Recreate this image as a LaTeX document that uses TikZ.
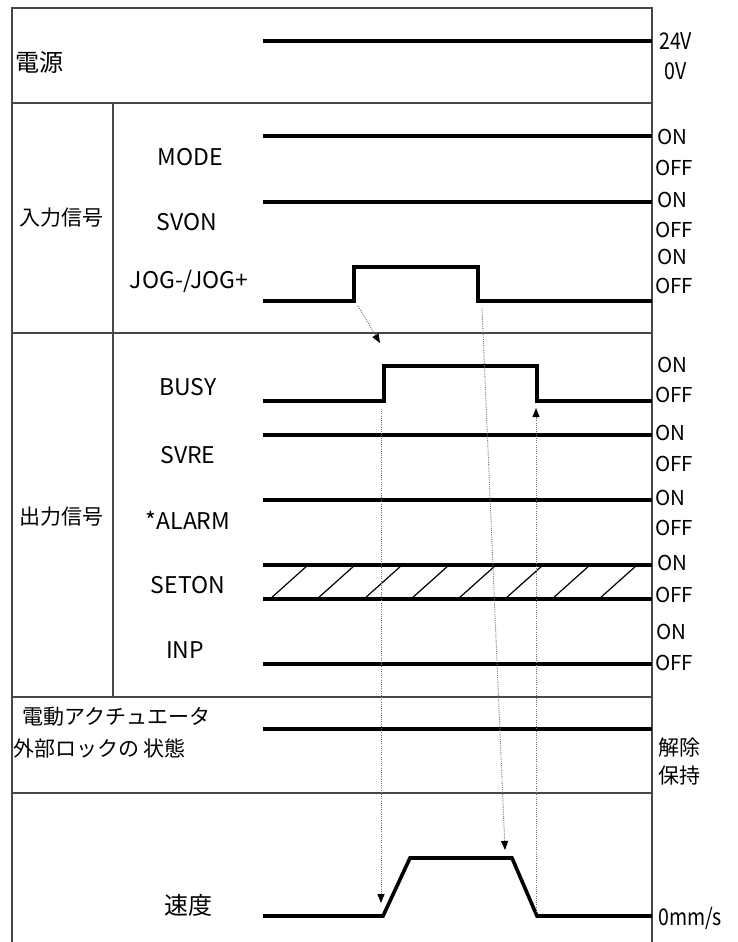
\documentclass[tikz,border=0pt]{standalone}
\usepackage{fontspec}
\newfontfamily\jp{Noto Sans CJK JP}
\usetikzlibrary{arrows.meta}
\tikzset{
  frame/.style={draw=black!72, line width=1.1pt},
  sig/.style={line width=3.6pt, line join=miter, line cap=butt},
  hatchline/.style={line width=1.2pt},
  dots/.style={draw=black!55, line width=0.9pt, dash pattern=on 1pt off 1.2pt,
    -{Triangle[length=9pt,width=7pt,color=black]}},
  grp/.style={font=\jp\fontsize{21}{21}\selectfont, inner sep=0, anchor=west},
  sname/.style={font=\jp\fontsize{23}{23}\selectfont, inner sep=0},
  stat/.style={font=\jp\fontsize{20.5}{20.5}\selectfont, inner sep=0, anchor=west},
  narrow/.style={font=\jp\fontsize{23}{23}\selectfont, inner sep=0, anchor=west},
}
\begin{document}
\begin{tikzpicture}[x=1pt,y=-1pt]
\useasboundingbox (0,0) rectangle (737,942);
% frame
\draw[frame] (12,942) -- (12,8) -- (652,8) -- (652,942);
\foreach \yy in {103,333,697,793} \draw[frame] (12,\yy) -- (652,\yy);
\draw[frame] (113,103) -- (113,697);
% group labels
\node[grp,font=\jp\fontsize{24}{24}\selectfont] (g1) at (15,62) {電源};
\node[grp] (g2) at (19,218) {入力信号};
\node[grp] (g3) at (19,517) {出力信号};
\node[grp] (g4) at (22,717) {電動アクチュエータ};
\node[grp] (g5) at (13,748) {外部ロックの 状態};
% signal names
\node[sname] (n1) at (190,157) {MODE};
\node[sname] (n2) at (187,222) {SVON};
\node[sname] (n3) at (189,281) {JOG-/JOG+};
\node[sname] (n4) at (188,387) {BUSY};
\node[sname] (n5) at (188,455) {SVRE};
\node[sname] (n6) at (188,520) {*ALARM};
\node[sname] (n7) at (188,585) {SETON};
\node[sname] (n8) at (185,650) {INP};
\node[grp,anchor=center,font=\jp\fontsize{24}{24}\selectfont] (n9) at (188,905) {速度};
% signals
\draw[sig] (263,41) -- (652,41);
\draw[sig] (263,136) -- (652,136);
\draw[sig] (263,202) -- (652,202);
\draw[sig] (263,301) -- (354,301) -- (354,267) -- (478,267) -- (478,301) -- (652,301);
\draw[sig] (263,401) -- (384,401) -- (384,366) -- (537,366) -- (537,401) -- (652,401);
\draw[sig] (263,435) -- (652,435);
\draw[sig] (263,500) -- (652,500);
\draw[sig] (263,565) -- (652,565);
\draw[sig] (263,599) -- (652,599);
\foreach \k in {0,...,7} \draw[hatchline] (270+47*\k,599) -- (308+47*\k,565);
\draw[sig] (263,664) -- (652,664);
\draw[sig] (263,729) -- (652,729);
\draw[sig] (263,916) -- (383,916) -- (410,858) -- (512,858) -- (537,916) -- (652,916);
% dotted arrows
\coordinate (a1s) at (358,306); \coordinate (a1e) at (380,343);
\coordinate (a2s) at (381,409); \coordinate (a2e) at (381,903);
\coordinate (a3s) at (482,308); \coordinate (a3e) at (505,850);
\coordinate (a4s) at (536,912); \coordinate (a4e) at (536,408);
\draw[dots] (a1s) -- (a1e);
\draw[dots] (a2s) -- (a2e);
\draw[dots] (a3s) -- (a3e);
\draw[dots] (a4s) -- (a4e);
% right labels
\node[narrow] (r1) at (659,41) {\scalebox{0.85}[1]{24V}};
\node[narrow] (r2) at (664,71) {\scalebox{0.85}[1]{0V}};
\node[stat] (r3) at (657,137) {ON};
\node[stat] (r4) at (655,168) {OFF};
\node[stat] (r5) at (657,200) {ON};
\node[stat] (r6) at (655,230) {OFF};
\node[stat] (r7) at (657,257) {ON};
\node[stat] (r8) at (655,286) {OFF};
\node[stat] (r9) at (657,365) {ON};
\node[stat] (r10) at (655,395) {OFF};
\node[stat] (r11) at (655,433) {ON};
\node[stat] (r12) at (655,464) {OFF};
\node[stat] (r13) at (655,498) {ON};
\node[stat] (r14) at (655,528) {OFF};
\node[stat] (r15) at (657,563) {ON};
\node[stat] (r16) at (655,595) {OFF};
\node[stat] (r17) at (656,632) {ON};
\node[stat] (r18) at (655,663) {OFF};
\node[stat,font=\jp\fontsize{21}{21}\selectfont] (r19) at (658,748) {解除};
\node[stat,font=\jp\fontsize{21}{21}\selectfont] (r20) at (658,776) {保持};
\node[narrow] (r21) at (658,918) {\scalebox{0.85}[1]{0mm/s}};
\end{tikzpicture}
\end{document}
